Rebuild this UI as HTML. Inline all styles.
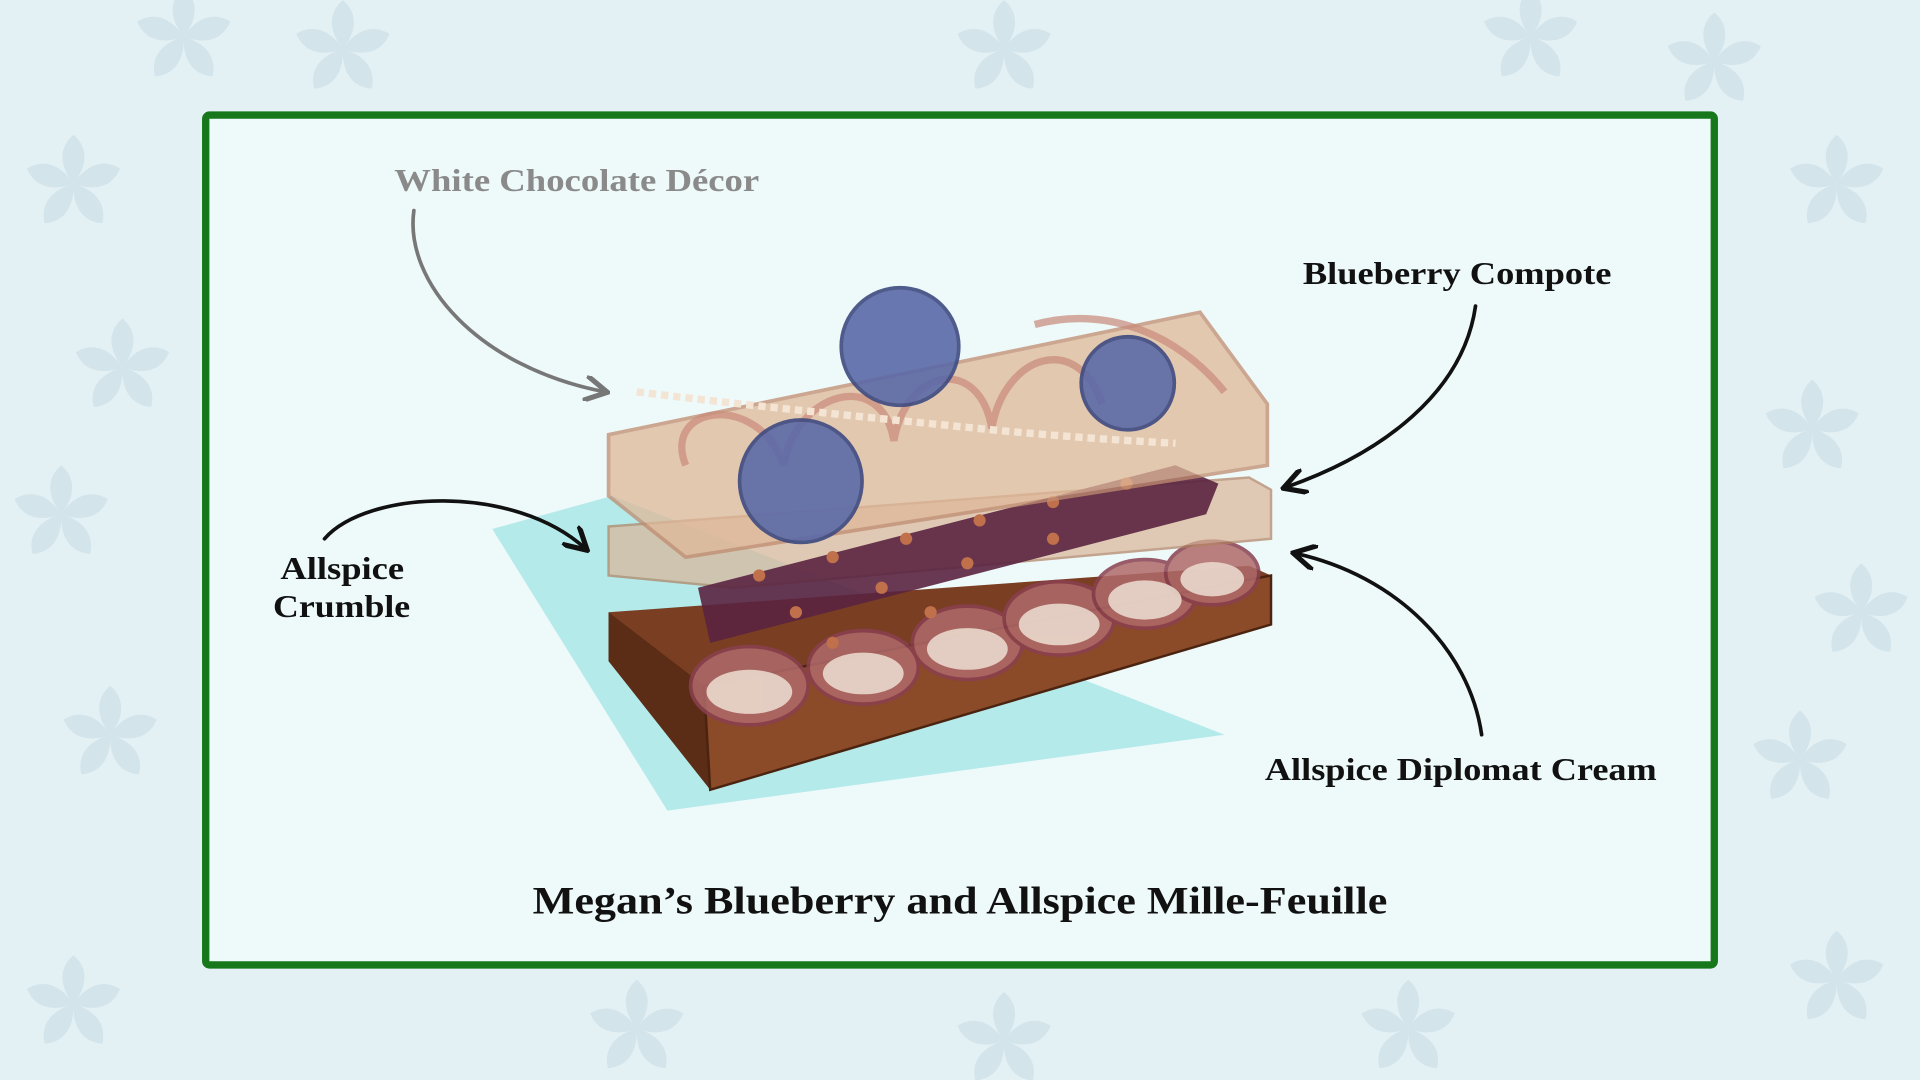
<!DOCTYPE html>
<html><head><meta charset="utf-8"><style>
html,body{margin:0;padding:0;width:1920px;height:1080px;overflow:hidden;background:#e4f1f4}
svg{display:block}
text{font-family:"Liberation Serif",serif;font-weight:bold}
</style></head><body>
<svg width="1920" height="1080" viewBox="0 0 1568 882" preserveAspectRatio="none">
<defs>
<g id="flake" fill="#cfe2ea" opacity="0.8">
<path d="M0,-40 C12,-30 12,-15 0,0 C-12,-15 -12,-30 0,-40Z"/>
<path d="M0,-40 C12,-30 12,-15 0,0 C-12,-15 -12,-30 0,-40Z" transform="rotate(72)"/>
<path d="M0,-40 C12,-30 12,-15 0,0 C-12,-15 -12,-30 0,-40Z" transform="rotate(144)"/>
<path d="M0,-40 C12,-30 12,-15 0,0 C-12,-15 -12,-30 0,-40Z" transform="rotate(216)"/>
<path d="M0,-40 C12,-30 12,-15 0,0 C-12,-15 -12,-30 0,-40Z" transform="rotate(288)"/>
</g>
<marker id="ak" viewBox="0 0 10 10" refX="8" refY="5" markerWidth="7" markerHeight="7" orient="auto"><path d="M0,0 L9,5 L0,10" fill="none" stroke="#111" stroke-width="2"/></marker>
<marker id="ag" viewBox="0 0 10 10" refX="8" refY="5" markerWidth="7" markerHeight="7" orient="auto"><path d="M0,0 L9,5 L0,10" fill="none" stroke="#777" stroke-width="2"/></marker>
</defs>
<rect width="1568" height="882" fill="#e4f1f4"/>
<use href="#flake" x="60" y="150"/><use href="#flake" x="100" y="300"/><use href="#flake" x="50" y="420"/>
<use href="#flake" x="90" y="600"/><use href="#flake" x="60" y="820"/><use href="#flake" x="150" y="30"/>
<use href="#flake" x="280" y="40"/><use href="#flake" x="520" y="840"/><use href="#flake" x="820" y="40"/>
<use href="#flake" x="1250" y="30"/><use href="#flake" x="1400" y="50"/><use href="#flake" x="1500" y="150"/>
<use href="#flake" x="1480" y="350"/><use href="#flake" x="1520" y="500"/><use href="#flake" x="1470" y="620"/>
<use href="#flake" x="1500" y="800"/><use href="#flake" x="1150" y="840"/><use href="#flake" x="820" y="850"/>
<rect x="168" y="94" width="1232" height="694" fill="#eef9fa" stroke="#16781a" stroke-width="6" rx="3"/>
<!-- cake -->
<polygon points="402,432 500,405 1000,600 545,662" fill="#a6e6e6" opacity="0.8"/>
<polygon points="497,500 1020,462 1038,470 1038,510 580,645 575,600 497,540" fill="#7a3e22"/>
<polygon points="497,500 575,560 580,645 497,540" fill="#5b2c16"/>
<polygon points="575,560 1038,470 1038,510 580,645" fill="#8b4a28" stroke="#4a2410" stroke-width="2"/>
<g fill="#b06a6a" opacity="0.85" stroke="#8a4050" stroke-width="3">
<ellipse cx="612" cy="560" rx="48" ry="32"/><ellipse cx="705" cy="545" rx="45" ry="30"/>
<ellipse cx="790" cy="525" rx="45" ry="30"/><ellipse cx="865" cy="505" rx="45" ry="30"/>
<ellipse cx="935" cy="485" rx="42" ry="28"/><ellipse cx="990" cy="468" rx="38" ry="26"/>
</g>
<g fill="#ead8cc" opacity="0.9">
<ellipse cx="612" cy="565" rx="35" ry="18"/><ellipse cx="705" cy="550" rx="33" ry="17"/>
<ellipse cx="790" cy="530" rx="33" ry="17"/><ellipse cx="865" cy="510" rx="33" ry="17"/>
<ellipse cx="935" cy="490" rx="30" ry="16"/><ellipse cx="990" cy="473" rx="26" ry="14"/>
</g>
<polygon points="497,430 1020,390 1038,400 1038,440 600,480 497,470" fill="#d9b597" opacity="0.7" stroke="#b08060" stroke-width="2"/>
<polygon points="570,480 960,380 995,395 985,420 580,525" fill="#5a2340" opacity="0.9"/>
<g fill="#c0704a"><circle cx="620" cy="470" r="5"/><circle cx="680" cy="455" r="5"/><circle cx="740" cy="440" r="5"/><circle cx="800" cy="425" r="5"/><circle cx="860" cy="410" r="5"/><circle cx="920" cy="395" r="5"/><circle cx="650" cy="500" r="5"/><circle cx="720" cy="480" r="5"/><circle cx="790" cy="460" r="5"/><circle cx="860" cy="440" r="5"/><circle cx="680" cy="525" r="5"/><circle cx="760" cy="500" r="5"/></g>
<polygon points="497,355 980,255 1035,330 1035,380 560,455 497,405" fill="#e0b898" opacity="0.75" stroke="#c08c70" stroke-width="3"/>
<g fill="none" stroke="#c98a7a" stroke-width="6" opacity="0.7">
<path d="M560,380 C540,330 620,320 640,380 C650,320 720,300 730,360 C740,300 800,290 810,350 C820,290 880,270 900,330"/>
<path d="M845,265 C900,250 960,270 1000,320"/>
</g>
<path d="M520,320 C600,330 700,340 800,350 C860,356 920,360 960,362" stroke="#f4e4d4" stroke-width="6" fill="none" stroke-dasharray="6 4"/>
<g fill="#5b6aa8" stroke="#3d4a80" stroke-width="3" opacity="0.9">
<circle cx="735" cy="283" r="48"/><circle cx="921" cy="313" r="38"/><circle cx="654" cy="393" r="50"/>
</g>
<g stroke="#111" stroke-width="3" fill="none" stroke-linecap="round">
<path d="M1205,250 C1195,320 1130,370 1050,398" marker-end="url(#ak)"/>
<path d="M1210,600 C1200,530 1140,470 1058,452" marker-end="url(#ak)"/>
<path d="M265,440 C300,400 420,395 478,448" marker-end="url(#ak)"/>
</g>
<path d="M338,172 C330,230 390,300 494,320" stroke="#777" stroke-width="3" fill="none" stroke-linecap="round" marker-end="url(#ag)"/>
<text x="322" y="156" font-size="26" fill="#8a8a8a" textLength="298" lengthAdjust="spacingAndGlyphs">White Chocolate Décor</text>
<text x="1064" y="232" font-size="26" fill="#111" textLength="252" lengthAdjust="spacingAndGlyphs">Blueberry Compote</text>
<text x="229" y="473" font-size="26" fill="#111" textLength="101" lengthAdjust="spacingAndGlyphs">Allspice</text>
<text x="223" y="504" font-size="26" fill="#111" textLength="112" lengthAdjust="spacingAndGlyphs">Crumble</text>
<text x="1033" y="637" font-size="26" fill="#111" textLength="320" lengthAdjust="spacingAndGlyphs">Allspice Diplomat Cream</text>
<text x="435" y="746" font-size="32" fill="#111" textLength="698" lengthAdjust="spacingAndGlyphs">Megan’s Blueberry and Allspice Mille-Feuille</text>
</svg>
</body></html>
